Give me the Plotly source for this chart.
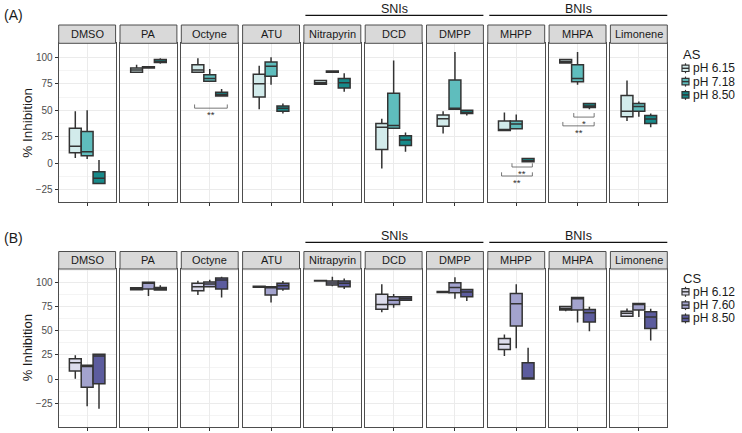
import plotly.graph_objects as go

# ---------------- data ----------------
facets = ["DMSO", "PA", "Octyne", "ATU", "Nitrapyrin", "DCD", "DMPP", "MHPP", "MHPA", "Limonene"]

# five-number summaries per facet: [lower whisker, q1, median, q3, upper whisker]
AS_pH615 = [[5, 10, 16, 33, 49], [86, 86, 88, 90, 93], [86, 86, 88, 93, 99], [51, 62.5, 75, 84, 92],
            [74, 74.5, 76, 78, 78.5], [-5, 13, 34, 37.5, 42], [28, 35, 42, 45.5, 49], [31, 31, 31.5, 40, 48],
            [94, 94.7, 96, 98, 98.5], [40, 44, 49, 64, 78]]
AS_pH718 = [[4, 7, 11, 30, 50], [89.5, 90, 90.5, 91, 91], [77, 77.5, 80, 83.6, 89], [74, 82, 91.5, 95.6, 100],
            [85.5, 86, 86.5, 87, 87], [33, 33, 35.6, 66, 97], [51, 51, 52, 78.6, 105], [32, 32.5, 37, 40, 46],
            [74, 77, 80, 93, 105], [44, 49, 53.6, 56.4, 58.3]]
AS_pH850 = [[-19, -19, -14, -8, 3], [94, 95, 96, 98, 99], [63, 63.5, 65, 67, 70], [47, 49, 52, 54, 56.5],
            [67.5, 71, 76, 80, 85], [11, 16.7, 22, 26, 29], [45, 47, 48, 50, 50.5], [1, 1.5, 2.5, 4.5, 5],
            [51, 52.7, 54, 56.4, 57], [34, 37.5, 41.7, 45, 47]]

CS_pH612 = [[0.4, 8.3, 17, 21, 24.6], [92, 92.3, 93, 94.5, 95], [87, 91.3, 95.4, 99, 101.7], [94.5, 95, 95.4, 96, 96],
            [101, 101.3, 101.7, 102, 102], [69, 72.3, 77, 87.6, 98], [89, 89.5, 90, 90.5, 91], [24, 30.5, 36, 42, 46],
            [70, 71.5, 73, 75, 75.5], [65, 65, 68, 70, 73]]
CS_pH760 = [[-28, -8.3, 13, 14.2, 14.5], [86, 93, 99, 100, 100], [95.4, 95.4, 98.2, 100.3, 102.7],
            [79.3, 86.8, 94.5, 95.4, 95.4], [96, 97.2, 99.3, 101.3, 105.8], [73.7, 77.2, 81.6, 85.1, 88],
            [83, 89.2, 94.8, 99.6, 105.2], [32, 55, 78, 88.6, 98], [58.5, 71.3, 83, 84.4, 84.4],
            [64.3, 71.3, 77, 78.2, 78.2]]
CS_pH850 = [[-30.7, -4.8, 24, 25.6, 26], [91.7, 92, 93, 94.8, 97], [84.4, 93, 102.4, 104.5, 105.8],
            [91.3, 93, 96.5, 99, 101.3], [93, 95.4, 99, 101.3, 104.1], [81.6, 81.6, 83.4, 85.1, 85.1],
            [80.6, 85.1, 89.9, 92.7, 92.7], [0, 0, 1, 17, 32.5], [49.5, 59, 68.5, 72, 74.7],
            [40, 52.3, 64.3, 69.5, 72.6]]

AS_labels = ["pH 6.15", "pH 7.18", "pH 8.50"]
CS_labels = ["pH 6.12", "pH 7.60", "pH 8.50"]
AS_colors = ["#d2ebeb", "#5fbdbd", "#178a8a"]
CS_colors = ["#dcdcec", "#a3a3ce", "#5c5c9e"]

y_ticks = [-25, 0, 25, 50, 75, 100]

# significance brackets (top row): facet, x0, x1, base y, tip y, label
sig_facet = ["Octyne", "MHPP", "MHPP", "MHPA", "MHPA"]
sig_x0 = [-0.32, -0.09, -0.31, -0.08, -0.31]
sig_x1 = [0.37, 0.34, 0.34, 0.35, 0.35]
sig_base = [52, -3.5, -12, 43.6, 35.3]
sig_tip = [55.5, 0, -8.5, 47.4, 39]
sig_label = ["**", "**", "**", "*", "**"]

# ---------------- layout geometry (pixels) ----------------
W, H = 742, 433
LEFT0, PW, GAP = 58.7, 56.9, 4.4
rows = [
    dict(strip_top=25.0, top=43.3, bottom=202.3, yrange=[-36.8, 113.2], title_size=13.5, group_y=15.3, label="(A)",
         label_y=15.0, legend_title="AS", legend_y=55.0, data=[AS_pH615, AS_pH718, AS_pH850],
         labels=AS_labels, colors=AS_colors),
    dict(strip_top=251.5, top=269.0, bottom=426.5, yrange=[-49.0, 113.8], title_size=13, group_y=242.3, label="(B)",
         label_y=238.3, legend_title="CS", legend_y=278.5, data=[CS_pH612, CS_pH760, CS_pH850],
         labels=CS_labels, colors=CS_colors),
]

FONT = "Liberation Sans, Arial, sans-serif"
DARK = "#333333"
BORDER = "#4d4d4d"

fig = go.Figure()
layout = dict(width=W, height=H, margin=dict(l=0, r=0, t=0, b=0), paper_bgcolor="white", plot_bgcolor="white",
              boxmode="group", boxgap=0.25, boxgroupgap=0.0, showlegend=False, font=dict(family=FONT))
shapes, annots = [], []


def px(x):
    return x / W


def py(y):
    return 1 - y / H


for r, row in enumerate(rows):
    for c, name in enumerate(facets):
        k = r * 10 + c + 1
        xs = "" if k == 1 else str(k)
        x0 = LEFT0 + c * (PW + GAP)
        x1 = x0 + PW
        layout["xaxis" + xs] = dict(domain=[px(x0), px(x1)], anchor="y" + xs, range=[-0.6, 0.6],
                                    tickvals=[0], ticktext=[""], ticks="outside", ticklen=3, tickcolor=DARK,
                                    showgrid=True, gridcolor="#ebebeb", gridwidth=1, zeroline=False,
                                    showline=True, mirror=True, linecolor=BORDER, linewidth=1, fixedrange=True)
        first = c == 0
        layout["yaxis" + xs] = dict(domain=[py(row["bottom"]), py(row["top"])], anchor="x" + xs,
                                    range=row["yrange"], tickvals=y_ticks, showticklabels=first,
                                    ticks="outside" if first else "", ticklen=3, tickcolor=DARK,
                                    tickfont=dict(size=10, color="#4d4d4d", family=FONT),
                                    showgrid=True, gridcolor="#ebebeb", gridwidth=1, zeroline=False,
                                    minor=dict(dtick=12.5, tick0=12.5, showgrid=True, gridcolor="#f4f4f4",
                                               gridwidth=0.6),
                                    showline=True, mirror=True, linecolor=BORDER, linewidth=1, fixedrange=True)
        if first:
            layout["yaxis" + xs]["title"] = dict(text="% Inhibition", font=dict(size=row["title_size"], color="#1a1a1a"),
                                                 standoff=0)
        for j in range(3):
            lo, q1, med, q3, hi = row["data"][j][c]
            fig.add_trace(go.Box(x=[0], lowerfence=[lo], q1=[q1], median=[med], q3=[q3], upperfence=[hi],
                                 xaxis="x" + xs, yaxis="y" + xs, name=row["labels"][j], offsetgroup=str(j),
                                 fillcolor=row["colors"][j], line=dict(color=DARK, width=1.5), whiskerwidth=0,
                                 boxpoints=False, showlegend=False, hoverinfo="skip"))
        # strip
        shapes.append(dict(type="rect", xref="paper", yref="paper", x0=px(x0), x1=px(x1),
                           y0=py(row["top"]), y1=py(row["strip_top"]), fillcolor="#d9d9d9",
                           line=dict(color=BORDER, width=1), layer="above"))
        annots.append(dict(xref="paper", yref="paper", x=px((x0 + x1) / 2), y=py((row["top"] + row["strip_top"]) / 2),
                           text=name, showarrow=False, xanchor="center", yanchor="middle",
                           font=dict(size=11, color="#1a1a1a", family=FONT)))
        # significance brackets
        if r == 0:
            for s in range(len(sig_facet)):
                if sig_facet[s] != name:
                    continue
                xr, yr = "x" + xs, "y" + xs
                ln = dict(color="#555555", width=0.8)
                shapes.append(dict(type="line", xref=xr, yref=yr, x0=sig_x0[s], x1=sig_x1[s],
                                   y0=sig_base[s], y1=sig_base[s], line=ln))
                shapes.append(dict(type="line", xref=xr, yref=yr, x0=sig_x0[s], x1=sig_x0[s],
                                   y0=sig_base[s], y1=sig_tip[s], line=ln))
                shapes.append(dict(type="line", xref=xr, yref=yr, x0=sig_x1[s], x1=sig_x1[s],
                                   y0=sig_base[s], y1=sig_tip[s], line=ln))
                annots.append(dict(xref=xr, yref=yr, x=(sig_x0[s] + sig_x1[s]) / 2, y=sig_base[s],
                                   text=sig_label[s], showarrow=False, xanchor="center", yanchor="top",
                                   yshift=1, font=dict(size=9.5, color="#333333", family=FONT)))

    # group labels (SNIs / BNIs)
    for label, c0, c1 in [("SNIs", 4, 6), ("BNIs", 7, 9)]:
        gx0 = LEFT0 + c0 * (PW + GAP) + 1.5
        gx1 = LEFT0 + c1 * (PW + GAP) + PW
        shapes.append(dict(type="line", xref="paper", yref="paper", x0=px(gx0), x1=px(gx1),
                           y0=py(row["group_y"]), y1=py(row["group_y"]), line=dict(color="#111111", width=1.2)))
        annots.append(dict(xref="paper", yref="paper", x=px((gx0 + gx1) / 2), y=py(row["group_y"] - 6.5),
                           text=label, showarrow=False, xanchor="center", yanchor="middle",
                           font=dict(size=12.5, color="#1a1a1a", family=FONT)))
    # panel label
    annots.append(dict(xref="paper", yref="paper", x=px(2), y=py(row["label_y"]), text=row["label"],
                       showarrow=False, xanchor="left", yanchor="middle",
                       font=dict(size=14, color="#1a1a1a", family=FONT)))
    # manual legend (ggplot-style boxplot keys)
    lx = 682.0
    annots.append(dict(xref="paper", yref="paper", x=px(lx - 1), y=py(row["legend_y"]), text=row["legend_title"],
                       showarrow=False, xanchor="left", yanchor="middle",
                       font=dict(size=13, color="#1a1a1a", family=FONT)))
    for j in range(3):
        cy = row["legend_y"] + 13.3 * (j + 1)
        shapes.append(dict(type="line", xref="paper", yref="paper", x0=px(lx + 3.5), x1=px(lx + 3.5),
                           y0=py(cy - 5), y1=py(cy + 5), line=dict(color=DARK, width=1.2)))
        shapes.append(dict(type="rect", xref="paper", yref="paper", x0=px(lx), x1=px(lx + 7),
                           y0=py(cy + 3.2), y1=py(cy - 3.2), fillcolor=row["colors"][j],
                           line=dict(color=DARK, width=1.2)))
        shapes.append(dict(type="line", xref="paper", yref="paper", x0=px(lx), x1=px(lx + 7),
                           y0=py(cy), y1=py(cy), line=dict(color=DARK, width=1.4)))
        annots.append(dict(xref="paper", yref="paper", x=px(lx + 9), y=py(cy), text=row["labels"][j],
                           showarrow=False, xanchor="left", yanchor="middle",
                           font=dict(size=12, color="#1a1a1a", family=FONT)))

layout["shapes"] = shapes
layout["annotations"] = annots
fig.update_layout(**layout)
fig.write_html("out.html", config={"displayModeBar": False},
               post_script="document.body.style.margin='0';")
